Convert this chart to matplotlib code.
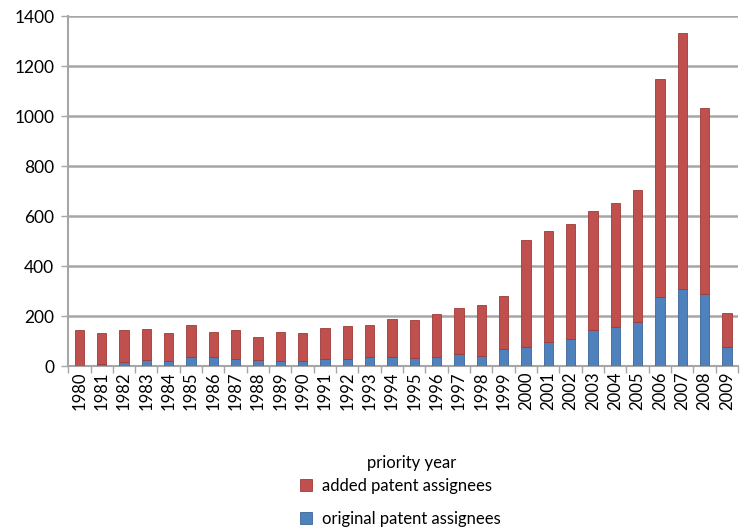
import matplotlib
matplotlib.use("Agg")
import matplotlib.pyplot as plt
import numpy as np

years = [str(y) for y in range(1980, 2010)]
totals = [145, 133, 145, 150, 133, 165, 138, 143, 115, 135,
          133, 153, 160, 163, 188, 183, 210, 232, 243, 280,
          505, 542, 570, 620, 652, 705, 1148, 1333, 1033, 213]
original = [2, 8, 15, 25, 20, 38, 38, 28, 25, 22,
            22, 30, 30, 35, 38, 32, 35, 48, 40, 70,
            75, 95, 108, 145, 155, 178, 275, 310, 290, 78]
added = [t - o for t, o in zip(totals, original)]

plt.rcParams['font.family'] = ['Lato', 'DejaVu Sans']

fig = plt.figure(figsize=(7.41, 5.27), dpi=100)
ax = fig.add_axes([0.092, 0.3055, 0.904, 0.664])

x = np.arange(len(years))
blue = '#4F81BD'
red = '#C0504D'
ax.bar(x, original, width=0.42, color=blue, edgecolor='#3A6699', linewidth=0.6,
       label='original patent assignees', zorder=3)
ax.bar(x, added, width=0.42, bottom=original, color=red, edgecolor='#9E3B38',
       linewidth=0.6, label='added patent assignees', zorder=3)

ax.set_xlim(-0.5, len(years) - 0.5)
ax.set_ylim(0, 1400)
ax.set_yticks(range(0, 1401, 200))
ax.yaxis.grid(True, color='#A6A6A6', linewidth=1.8, zorder=0)
ax.set_axisbelow(True)

ax.set_xticks(x)
ax.set_xticklabels(years, rotation=90, fontsize=12)
ax.set_xticks(np.arange(-0.5, len(years), 1), minor=True)
ax.tick_params(axis='x', which='major', length=0, pad=4)
ax.tick_params(axis='x', which='minor', length=5, color='#A6A6A6', width=1)
ax.tick_params(axis='y', labelsize=12.5, length=5, color='#A6A6A6', width=1, pad=5)

for s in ['top', 'right']:
    ax.spines[s].set_visible(False)
ax.spines['left'].set_color('#A6A6A6')
ax.spines['left'].set_linewidth(1.5)
ax.spines['bottom'].set_color('#A6A6A6')
ax.spines['bottom'].set_linewidth(1.5)

fig.text(0.555, 0.121, 'priority year', fontsize=12, ha='center', va='center')

handles, labels = ax.get_legend_handles_labels()
fig.legend(handles[::-1], labels[::-1], loc='center', bbox_to_anchor=(0.54, 0.047),
           frameon=False, fontsize=12, handlelength=0.7, handleheight=0.7,
           labelspacing=1.0, handletextpad=0.6)

fig.savefig('out.png', dpi=100)
